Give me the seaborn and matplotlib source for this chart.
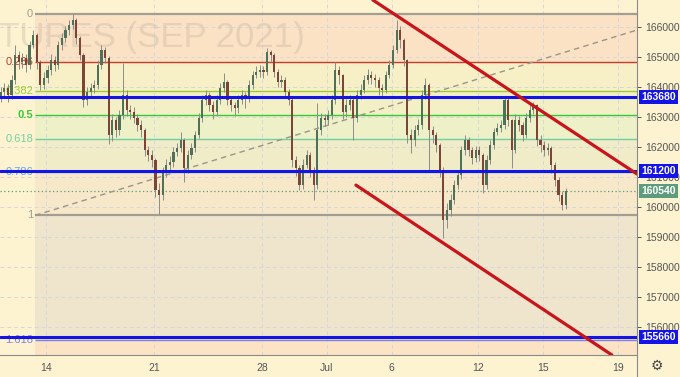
import matplotlib
matplotlib.use('Agg')
import matplotlib.pyplot as plt
import matplotlib.transforms as mtransforms
import numpy as np
import pandas as pd
import seaborn as sns

# hourly-ish candles
closes = [
    163830, 163970, 163730, 164230, 165070, 164830, 164970, 164730, 165400, 165730,
    164830, 164070, 164300, 164570, 164900, 164730, 165400, 165630, 165900, 166070,
    166230, 165630, 165070, 163570, 163830, 163970, 164070, 164730, 165230, 164970,
    162400, 162900, 162570, 163070, 163730, 163230, 163170, 162970, 162730, 162570,
    161900, 161730, 161570, 160570, 160400, 161170, 161400, 161500, 161830, 161970,
    162230, 161300, 161730, 161970, 162400, 162970, 163570, 163730, 163400, 163170,
    163570, 163970, 164170, 163570, 163400, 163300, 163570, 163730, 163630, 164070,
    164400, 164500, 164570, 164500, 165170, 165070, 164500, 164170, 164230, 163830,
    163570, 161570, 161300, 160730, 161400, 161730, 161230, 160730, 162570, 162970,
    162900, 163070, 163570, 164570, 164400, 163170, 163400, 163570, 162970, 163730,
    163900, 164230, 164400, 164300, 164230, 163970, 163900, 164400, 164730, 165230,
    165900, 165570, 164900, 162400, 162230, 162570, 162730, 163730, 164070, 162570,
    162400, 162070, 161230, 159570, 159900, 160230, 160730, 161070, 161900, 162230,
    161900, 161630, 161900, 161730, 160730, 161570, 162070, 162500, 162630, 162730,
    163570, 162900, 161900, 162900, 162730, 162400, 162970, 163230, 163400, 162230,
    162070, 161900, 161970, 161400, 160900, 160400, 160070, 160540,
]
highs = [
    164000, 164150, 164100, 164400, 165400, 165200, 165150, 165100, 165550, 165900,
    165800, 164900, 164500, 164750, 165100, 165050, 165550, 165800, 166050, 166250,
    166430, 166300, 165700, 165150, 164000, 164150, 164250, 164900, 165400, 165350,
    165050, 163100, 163000, 163250, 164800, 163900, 163400, 163350, 163100, 162900,
    162650, 162050, 161900, 161650, 160800, 161350, 161600, 161700, 162000, 162150,
    162500, 162300, 161900, 162150, 162550, 163150, 163750, 163900, 163850, 163550,
    163750, 164150, 164470, 164250, 163700, 163500, 163750, 163900, 163850, 164250,
    164550, 164700, 164750, 164700, 165300, 165250, 165150, 164600, 164400, 164350,
    163950, 163650, 161700, 161400, 161600, 161900, 161850, 161350, 163470, 163150,
    163100, 163250, 163750, 164830, 164700, 164450, 163600, 163750, 163650, 163900,
    164100, 164400, 164600, 164550, 164450, 164350, 164100, 164550, 164900, 165400,
    166230, 166050, 165650, 164950, 162600, 162750, 162950, 163900, 164300, 164150,
    162700, 162500, 162150, 161350, 160150, 160450, 160900, 161250, 162050, 162400,
    162350, 162000, 162050, 162050, 161800, 161750, 162250, 162650, 162800, 162900,
    163630, 163650, 162950, 163100, 163050, 162850, 163150, 163400, 163500, 163450,
    162400, 162200, 162150, 162050, 161500, 161000, 160550, 160650,
]
lows = [
    163500, 163650, 163500, 163600, 164100, 164600, 164650, 164500, 164600, 165300,
    164600, 163900, 163950, 164150, 164400, 164550, 164600, 165250, 165500, 165750,
    165950, 165450, 164900, 163350, 163400, 163700, 163800, 163950, 164600, 164800,
    162100, 162200, 162350, 162400, 162950, 163050, 162950, 162800, 162550, 162350,
    161700, 161550, 161350, 160350, 159770, 160250, 161000, 161250, 161350, 161700,
    161850, 160850, 161150, 161600, 161850, 162300, 162850, 163400, 163200, 162950,
    163050, 163450, 163850, 163400, 163200, 163050, 163150, 163450, 163300, 163500,
    163950, 164300, 164350, 164300, 164400, 164850, 164350, 164000, 164000, 163650,
    163400, 161350, 161050, 160570, 160600, 161300, 161000, 160230, 160600, 162400,
    162700, 162750, 162950, 163450, 164100, 162950, 163000, 163250, 162230, 162850,
    163600, 163800, 164100, 164100, 164000, 163750, 163650, 163800, 164300, 164650,
    165150, 165300, 164700, 162150, 161800, 162050, 162400, 162600, 163600, 161230,
    162150, 161850, 161000, 158970, 159300, 159700, 160100, 160600, 160950, 161750,
    161700, 161450, 161500, 161550, 160470, 160600, 161450, 161950, 162400, 162500,
    162600, 162700, 161300, 161800, 162550, 162200, 162300, 162850, 163100, 162050,
    161850, 161700, 161750, 161150, 160700, 160200, 159900, 159950,
]
first_open = 163700

tick_pos = [12.6, 42.6, 72.6, 90.6, 108.6, 132.6, 150.6, 171.6]
tick_labels = ['14', '21', '28', 'Jul', '6', '12', '15', '19']

# fibonacci retracement
fib_x0 = 9.55
fib_top, fib_bottom = 166430, 159720
fib_levels = [0, 0.236, 0.382, 0.5, 0.618, 0.786, 1, 1.618]
fib_line_colors = ['#a39e93', '#cc3b2e', '#9acd32', '#36c936', '#6ed1a0', '#5fa8e8', '#a39e93', '#8080e0']
fib_fill_colors = ['#fbe2c4', '#f7efc6', '#f2f0c4', '#eef0c8', '#f1ecc8', '#f6e8c9', '#efe4cc', '#fbe3c4']

# horizontal levels and current price
blue_levels = [163680, 161200, 155660]
last_price = 160540

# drawn lines (bar index, price)
trend_x, trend_y = [fib_x0, 176.8], [fib_bottom, 165900]
upper_x, upper_y = [103.4, 176.8], [166900, 161100]
lower_x, lower_y = [98.7, 169.8], [160730, 155070]

BG = '#fdf3d1'
sns.set_style('white', rc={'axes.facecolor': BG, 'figure.facecolor': BG})
plt.rcParams['font.family'] = ['Liberation Sans', 'DejaVu Sans']

df = pd.DataFrame({'close': closes, 'high': highs, 'low': lows})
df['open'] = df['close'].shift(1).fillna(first_open)
df['x'] = np.arange(len(df))
df['up'] = df['close'] >= df['open']

xmin, xmax = -0.2, 176.8
ymin, ymax = 155067, 166900

fig = plt.figure(figsize=(6.8, 3.77), dpi=100)
ax = fig.add_axes([0, 22 / 377, 637 / 680, 355 / 377])
ax.set_xlim(xmin, xmax)
ax.set_ylim(ymin, ymax)

# fib zones
prices = [fib_top - lv * (fib_top - fib_bottom) for lv in fib_levels]
bounds = prices + [ymin]
for i, col in enumerate(fib_fill_colors):
    ax.fill_between([fib_x0, xmax], bounds[i + 1], bounds[i], color=col, lw=0, zorder=0.2)
for p, lv, col in zip(prices, fib_levels, fib_line_colors):
    lw = 1.6 if lv in (0, 1) else 1.0
    ax.hlines(p, fib_x0, xmax, color=col, lw=lw, zorder=1)
    ax.text(9.0, p, f'{lv:g}', ha='right', va='center', fontsize=8, color=col, zorder=1.5,
            fontweight='bold' if lv == 0.5 else 'normal')

ax.set_axisbelow(True)
ax.grid(True, ls=(0, (4, 3)), color='#d6d7dc', lw=0.7)

ax.text(305 / 637, 1 - 37 / 355, 'FUTURES (SEP 2021)', transform=ax.transAxes, ha='right',
        va='center', fontsize=25, color='#b8ab98', alpha=0.3, zorder=1.2, clip_on=True)

# candles
body_lo = df[['open', 'close']].min(axis=1)
body_h = np.maximum((df['close'] - df['open']).abs(), 30)
colors = np.where(df['up'], '#4e7158', '#7d4535')
ax.vlines(df['x'], df['low'], df['high'], color='#8c8c8c', lw=0.7, zorder=3)
ax.bar(df['x'], body_h, bottom=body_lo, width=0.6, color=colors, lw=0, zorder=4)

# levels
ax.axhline(last_price, color='#5c9c7c', ls=(0, (1, 2)), lw=0.9, zorder=2)
for p in blue_levels:
    ax.axhline(p, color='#1414e6', lw=2.2, zorder=5)

sns.lineplot(x=trend_x, y=trend_y, ax=ax, color='#9a948c', lw=1, ls=(0, (4, 3)), zorder=2.5, estimator=None)
sns.lineplot(x=upper_x, y=upper_y, ax=ax, color='#c8141a', lw=2.3, zorder=6, estimator=None)
sns.lineplot(x=lower_x, y=lower_y, ax=ax, color='#c8141a', lw=2.3, zorder=6, estimator=None)

# axes
for s in ['top', 'left']:
    ax.spines[s].set_visible(False)
for s in ['right', 'bottom']:
    ax.spines[s].set_color('#8a8a8a')
    ax.spines[s].set_linewidth(0.8)
ax.yaxis.tick_right()
ax.set_yticks(range(156000, 167000, 1000))
ax.set_yticklabels([str(v) for v in range(156000, 167000, 1000)])
ax.set_xticks(tick_pos, tick_labels)
ax.tick_params(axis='both', labelsize=7.5, colors='#555555', length=3, width=0.7, pad=3)
ax.tick_params(axis='y', pad=3)
ax.set_xlabel('')
ax.set_ylabel('')

trans = mtransforms.blended_transform_factory(ax.transAxes, ax.transData)
badges = [(163680, '#1414e6'), (161200, '#1414e6'), (last_price, '#5c9c7c'), (155660, '#1414e6')]
for p, col in badges:
    ax.text(1 + 4 / 637, p, str(p), transform=trans, ha='left', va='center', fontsize=7.5,
            color='white', fontweight='bold', clip_on=False, zorder=7,
            bbox=dict(boxstyle='square,pad=0.2', fc=col, ec='none'))

fig.add_artist(plt.Line2D([637 / 680] * 2, [0, 22 / 377], color='#8a8a8a', lw=0.8,
                          transform=fig.transFigure))
fig.text(657 / 680, 1 - 366 / 377, '\u2699', ha='center', va='center', fontsize=10, color='#444444')

fig.savefig('out.png', dpi=100, facecolor=BG)
